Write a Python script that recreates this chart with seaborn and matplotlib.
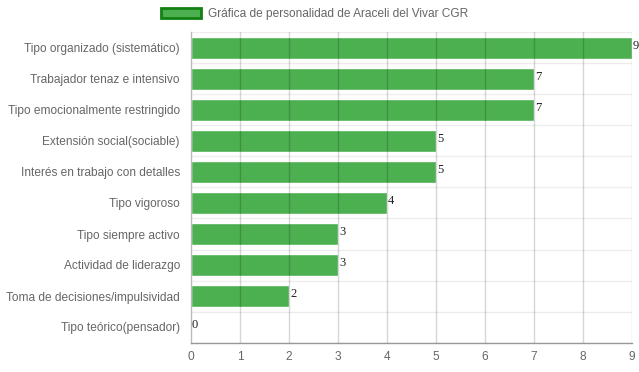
import matplotlib
matplotlib.use("Agg")
import matplotlib.pyplot as plt
import seaborn as sns
import pandas as pd
import numpy as np
from matplotlib.patches import Patch

categories = [
    "Tipo organizado (sistemático)",
    "Trabajador tenaz e intensivo",
    "Tipo emocionalmente restringido",
    "Extensión social(sociable)",
    "Interés en trabajo con detalles",
    "Tipo vigoroso",
    "Tipo siempre activo",
    "Actividad de liderazgo",
    "Toma de decisiones/impulsividad",
    "Tipo teórico(pensador)",
]
values = [9, 7, 7, 5, 5, 4, 3, 3, 2, 0]
series_name = "Gráfica de personalidad de Araceli del Vivar CGR"

sns.set_style("white")
plt.rcParams["font.family"] = ["Liberation Sans", "DejaVu Sans"]

df = pd.DataFrame({"cat": categories, "val": values})

fig = plt.figure(figsize=(6.39, 3.72), dpi=100)
ax = fig.add_axes([191 / 639, 1 - 342.5 / 372, (632 - 191) / 639, (342.5 - 32.5) / 372])

sns.barplot(data=df, y="cat", x="val", orient="h", color="#4CAF50", saturation=1,
            width=0.73, ax=ax, zorder=2)

ax.set_xlim(0, 9)
ax.set_ylim(len(categories) - 0.5, -0.5)
ax.set_xticks(range(0, 10))
ax.set_xlabel("")
ax.set_ylabel("")

# vertical grid lines over bars
for x in range(1, 10):
    ax.axvline(x, color=(0, 0, 0, 0.16), lw=1, zorder=3)
# horizontal grid at category boundaries
for b in np.arange(-0.5, len(categories) - 0.4, 1):
    ax.axhline(b, color=(0, 0, 0, 0.07), lw=1, zorder=1)

ax.set_yticks(range(len(categories)))
ax.set_yticklabels(categories)
ax.set_yticks(np.arange(-0.5, len(categories), 1), minor=True)
ax.tick_params(axis="y", which="major", length=0, pad=8, labelsize=8.6, labelcolor="#666666")
ax.tick_params(axis="y", which="minor", length=8, color=(0, 0, 0, 0.07), width=1)
ax.tick_params(axis="x", which="major", length=0, pad=6, labelsize=8.6, labelcolor="#666666")

for side in ["top", "right"]:
    ax.spines[side].set_visible(False)
ax.spines["left"].set_color("#bbbbbb")
ax.spines["bottom"].set_color("#999999")
ax.spines["left"].set_linewidth(1)
ax.spines["bottom"].set_linewidth(1)

for i, v in enumerate(values):
    ax.text(v + 0.02, i - 0.05, str(v), ha="left", va="center", fontsize=9,
            family=["Liberation Serif", "DejaVu Serif"], color="#222222", zorder=4)

handle = Patch(facecolor="#4CAF50", edgecolor="#138013", linewidth=2)
fig.legend([handle], [series_name], loc="center", bbox_to_anchor=(0.492, 1 - 14 / 372),
           frameon=False, fontsize=8.6, handlelength=3.4, handleheight=0.95, handletextpad=0.55,
           labelcolor="#666666")

fig.savefig("out.png", dpi=100)
